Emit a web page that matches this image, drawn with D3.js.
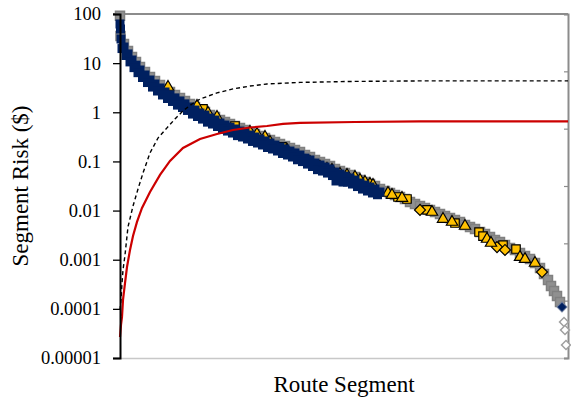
<!DOCTYPE html>
<html>
<head>
<meta charset="utf-8">
<script src="https://cdn.jsdelivr.net/npm/d3@7"></script>
<style>
  html, body { margin: 0; padding: 0; background: #fff; }
  svg { display: block; }
  text { font-family: "Liberation Serif", "Times New Roman", serif; fill: #000; }
</style>
</head>
<body>
<svg id="chart" width="571" height="400"></svg>
<script>
// Route segments (x) ranked by risk; segment risk in $ on a log axis,
// cumulative risk on the secondary linear axis.
const segmentCount = 896;

// All segments: [segment, risk $]
const allSegments = [
  [0, 92], [1, 35.7], [8, 24.5], [16, 17.7], [24, 13.3], [32, 10.5], [40, 8.34], [50, 6.60],
  [60, 5.22], [70, 4.33], [80, 3.59], [90, 2.98], [100, 2.59], [110, 2.25], [120, 1.95],
  [130, 1.70], [140, 1.47], [150, 1.28], [160, 1.11], [170, 1.01], [180, 0.880], [190, 0.801],
  [200, 0.697], [210, 0.634], [220, 0.577], [230, 0.526], [240, 0.479], [250, 0.436],
  [260, 0.397], [270, 0.361], [280, 0.329], [290, 0.300], [300, 0.273], [310, 0.248],
  [320, 0.226], [330, 0.206], [340, 0.188], [350, 0.171], [360, 0.155], [370, 0.135],
  [380, 0.123], [390, 0.107], [400, 0.0973], [410, 0.0886], [420, 0.0807], [430, 0.0701],
  [440, 0.0638], [450, 0.0581], [460, 0.0529], [470, 0.0482], [480, 0.0419], [490, 0.0381],
  [500, 0.0347], [510, 0.0316], [520, 0.0275], [530, 0.0250], [540, 0.0228], [550, 0.0207],
  [560, 0.0189], [570, 0.0172], [580, 0.0149], [590, 0.0136], [600, 0.0124], [610, 0.0113],
  [620, 0.0103], [630, 0.00935], [640, 0.00851], [650, 0.00775], [660, 0.00706], [670, 0.00643],
  [680, 0.00585], [690, 0.00508], [700, 0.00463], [710, 0.00421], [720, 0.00366], [730, 0.00333],
  [740, 0.00290], [750, 0.00252], [760, 0.00229], [770, 0.00199], [780, 0.00173], [790, 0.00158],
  [800, 0.00137], [810, 0.00119], [820, 0.00103], [830, 0.000857], [840, 0.000678],
  [848, 0.000512], [856, 0.000386], [862, 0.000292], [868, 0.000231], [874, 0.000183],
  [880, 0.000138]
];

// Segments below the cut-off, shown as open diamonds
const lowSegments = [[888, 0.000054], [890, 0.0000371], [892, 0.0000184]];

// Highest-risk group (filled squares)
const groupA = [
  [0, 62.6], [1, 49.5], [2, 31.0], [8, 21.3], [16, 15.4], [24, 11.6], [32, 9.1], [40, 7.25],
  [50, 5.74], [60, 4.54], [70, 3.76], [80, 3.12], [90, 2.59], [100, 2.25], [110, 1.96],
  [120, 1.70], [130, 1.48], [140, 1.28], [150, 1.11], [160, 0.965], [170, 0.878], [180, 0.765],
  [190, 0.696], [200, 0.606], [210, 0.551], [220, 0.501], [230, 0.457], [240, 0.416],
  [250, 0.379], [260, 0.345], [270, 0.314], [280, 0.286], [290, 0.261], [300, 0.237],
  [310, 0.216], [320, 0.196], [330, 0.179], [340, 0.163], [350, 0.149], [360, 0.135],
  [370, 0.117], [380, 0.107], [390, 0.093], [400, 0.0846], [410, 0.077], [420, 0.0701],
  [430, 0.0609], [432, 0.040], [440, 0.0554], [446, 0.038], [450, 0.0505], [460, 0.046],
  [470, 0.0419], [480, 0.0364], [490, 0.0331], [500, 0.0302], [502, 0.026], [510, 0.0275],
  [515, 0.021], [520, 0.0239],
  [4, 19.8], [12, 14.3], [20, 10.6], [28, 8.1], [36, 6.4], [45, 5.1], [55, 4.03], [65, 3.26],
  [75, 2.71], [85, 2.25], [95, 1.91], [105, 1.66], [115, 1.40], [125, 1.25], [135, 1.09],
  [145, 0.92], [155, 0.82], [165, 0.727], [175, 0.63], [185, 0.577], [195, 0.513], [205, 0.45],
  [215, 0.415], [225, 0.378], [235, 0.335], [245, 0.314], [255, 0.286], [265, 0.255],
  [275, 0.237], [285, 0.216], [295, 0.192], [305, 0.179], [315, 0.163], [325, 0.145],
  [335, 0.135], [345, 0.123], [355, 0.108], [365, 0.0993], [375, 0.0883], [385, 0.0788],
  [395, 0.068], [405, 0.0637], [415, 0.058], [425, 0.0516], [435, 0.0458], [455, 0.038],
  [465, 0.0347], [475, 0.0308], [485, 0.0274], [495, 0.025], [505, 0.0228]
];
const groupAEnd = [[884, 0.000109]];

// Other groups
const groupB = [ // triangles
  [96, 3.27], [154, 1.34], [176, 0.97], [194, 0.80], [260, 0.397], [274, 0.361], [290, 0.315],
  [300, 0.249], [334, 0.172], [364, 0.112], [380, 0.0976], [400, 0.0771], [414, 0.0702],
  [424, 0.067], [440, 0.0556], [454, 0.053], [470, 0.0483], [480, 0.0419], [490, 0.0382],
  [500, 0.0348], [506, 0.0332], [536, 0.0228], [544, 0.0207], [564, 0.0180], [624, 0.00935],
  [646, 0.00673], [664, 0.00585], [690, 0.00485], [734, 0.00264], [742, 0.00219],
  [800, 0.00113], [810, 0.00103], [830, 0.000857]
];
const groupC = [ // squares
  [166, 1.17], [230, 0.526], [324, 0.197], [390, 0.0847], [556, 0.0189], [574, 0.0172],
  [614, 0.0103], [670, 0.00558], [718, 0.00366], [726, 0.00303], [766, 0.00199], [792, 0.00165]
];
const groupD = [ // diamonds
  [600, 0.0103], [754, 0.00181], [770, 0.00158], [844, 0.000562]
];

// Cumulative risk curves: [segment, cumulative $]
const cumulativeRisk = [
  [0, 110], [2, 173], [4, 215], [6, 304], [10, 392], [14, 476], [20, 565], [26, 638],
  [34, 712], [44, 785], [60, 869], [80, 958], [100, 1031], [126, 1099], [160, 1146],
  [194, 1172], [226, 1193], [260, 1206], [294, 1214], [326, 1225], [360, 1230], [470, 1235],
  [600, 1238], [896, 1238]
];
const cumulativeUpper = [
  [0, 251], [2, 304], [4, 392], [6, 460], [10, 539], [16, 686], [26, 795], [36, 884],
  [46, 968], [60, 1073], [76, 1151], [94, 1204], [110, 1251], [126, 1293], [144, 1329],
  [160, 1355], [194, 1387], [226, 1408], [260, 1423], [294, 1434], [360, 1442], [460, 1447],
  [600, 1450], [896, 1450]
];

const riskTicks = [100, 10, 1, 0.1, 0.01, 0.001, 0.0001, 0.00001];
const riskTickLabels = ["100", "10", "1", "0.1", "0.01", "0.001", "0.0001", "0.00001"];
const cumulativeTicks = [0, 300, 600, 900, 1200, 1500, 1800];

const svg = d3.select("#chart");
const plot = { left: 120, right: 568, top: 14, bottom: 358 };

const x = d3.scaleLinear().domain([0, segmentCount]).range([plot.left, plot.right]);
const y = d3.scaleLog().domain([0.00001, 100]).range([plot.bottom, plot.top]);
const y2 = d3.scaleLinear().domain([0, 1800]).range([plot.bottom, plot.top]);

// frame: top and bottom edges
svg.append("line").attr("x1", 113).attr("x2", plot.right)
  .attr("y1", plot.top).attr("y2", plot.top)
  .attr("stroke", "#8c8c8c").attr("stroke-width", 2);
svg.append("line").attr("x1", plot.left).attr("x2", plot.right)
  .attr("y1", plot.bottom + 0.5).attr("y2", plot.bottom + 0.5)
  .attr("stroke", "#c8c8c8").attr("stroke-width", 1.5);

// secondary (right) axis, ticks inside, no labels
const rightAxis = svg.append("g").attr("transform", `translate(${plot.right},0)`)
  .call(d3.axisLeft(y2).tickValues(cumulativeTicks).tickSize(4).tickFormat(""));
rightAxis.select(".domain").attr("stroke", "#8c8c8c").attr("stroke-width", 2);
rightAxis.selectAll(".tick line").attr("stroke", "#8c8c8c").attr("stroke-width", 1.2);

const sq = d3.symbol().type(d3.symbolSquare);
const tri = d3.symbol().type(d3.symbolTriangle);

// all segments: grey squares
svg.append("g").selectAll("path").data(allSegments).join("path")
  .attr("d", sq.size(81)())
  .attr("transform", d => `translate(${x(d[0])},${y(d[1])})`)
  .attr("fill", "#909090").attr("stroke", "#808080").attr("stroke-width", 1.5);

svg.append("g").selectAll("path").data(lowSegments).join("path")
  .attr("d", sq.size(40)())
  .attr("transform", d => `translate(${x(d[0])},${y(d[1])}) rotate(45)`)
  .attr("fill", "#fff").attr("stroke", "#a0a0a0").attr("stroke-width", 1.5);

// yellow groups
const yellow = "#ffc000";
svg.append("g").selectAll("path").data(groupC).join("path")
  .attr("d", sq.size(72)())
  .attr("transform", d => `translate(${x(d[0])},${y(d[1])})`)
  .attr("fill", yellow).attr("stroke", "#000").attr("stroke-width", 1.2);
svg.append("g").selectAll("path").data(groupD).join("path")
  .attr("d", sq.size(60)())
  .attr("transform", d => `translate(${x(d[0])},${y(d[1])}) rotate(45)`)
  .attr("fill", yellow).attr("stroke", "#000").attr("stroke-width", 1.2);
svg.append("g").selectAll("path").data(groupB).join("path")
  .attr("d", tri.size(55)())
  .attr("transform", d => `translate(${x(d[0])},${y(d[1])})`)
  .attr("fill", yellow).attr("stroke", "#000").attr("stroke-width", 1.2);

// highest-risk group: navy squares
const navy = "#002060";
svg.append("g").selectAll("path").data(groupA).join("path")
  .attr("d", sq.size(81)())
  .attr("transform", d => `translate(${x(d[0])},${y(d[1])})`)
  .attr("fill", navy);
svg.append("g").selectAll("path").data(groupAEnd).join("path")
  .attr("d", sq.size(50)())
  .attr("transform", d => `translate(${x(d[0])},${y(d[1])}) rotate(45)`)
  .attr("fill", navy).attr("stroke", "#6a7a9a").attr("stroke-width", 1);

// cumulative curves on the secondary axis
const line = d3.line().x(d => x(d[0])).y(d => y2(d[1]));
svg.append("path").datum(cumulativeUpper).attr("d", line)
  .attr("fill", "none").attr("stroke", "#000").attr("stroke-width", 1.4)
  .attr("stroke-dasharray", "4,3");
svg.append("path").datum(cumulativeRisk).attr("d", line)
  .attr("fill", "none").attr("stroke", "#cc0000").attr("stroke-width", 2.2);

// primary (left) log axis
const leftAxis = svg.append("g").attr("transform", `translate(${plot.left},0)`)
  .call(d3.axisLeft(y).tickValues(riskTicks).tickSize(7).tickPadding(12)
    .tickFormat((d, i) => riskTickLabels[i]));
leftAxis.select(".domain").attr("stroke", "#000").attr("stroke-width", 2);
leftAxis.selectAll(".tick line").attr("stroke", "#000").attr("stroke-width", 1.3);
leftAxis.selectAll(".tick text")
  .style("font-family", '"Liberation Serif", "Times New Roman", serif')
  .style("font-size", "18.5px").attr("fill", "#000");

// axis titles
svg.append("text")
  .attr("transform", `translate(28,${(plot.top + plot.bottom) / 2}) rotate(-90)`)
  .attr("text-anchor", "middle").style("font-size", "23px")
  .text("Segment Risk ($)");
svg.append("text")
  .attr("x", (plot.left + plot.right) / 2).attr("y", 392)
  .attr("text-anchor", "middle").style("font-size", "23px")
  .text("Route Segment");
</script>
</body>
</html>
